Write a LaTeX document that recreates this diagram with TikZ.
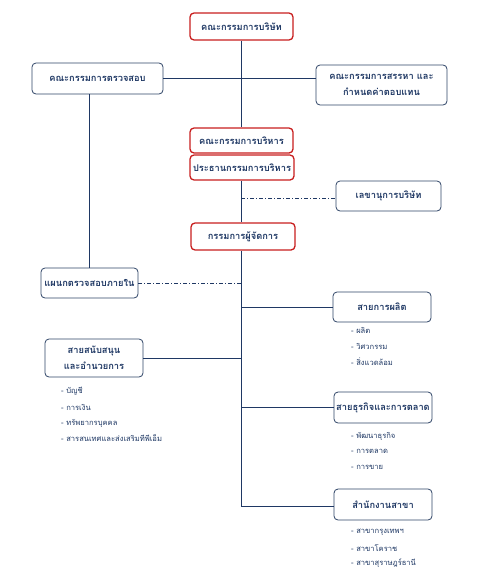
\documentclass[tikz,border=0pt]{standalone}
\usepackage{fontspec}
\newfontfamily\thai[Script=Thai]{Loma}
\definecolor{navy}{HTML}{1F3864}
\definecolor{bordr}{HTML}{2E4466}
\definecolor{redb}{HTML}{C81E1E}
\begin{document}
\begin{tikzpicture}[x=1pt,y=-1pt,
  box/.style={draw=bordr,line width=0.8pt,rounded corners=4pt,fill=white,text=navy,
    font=\thai\fontsize{9.3}{16.5}\selectfont\bfseries,align=center,inner sep=0pt},
  redbox/.style={box,draw=redb,line width=1.3pt},
  conn/.style={draw=navy,line width=0.7pt},
  dd/.style={conn,dash pattern=on 4pt off 2pt on 1pt off 2pt},
  item/.style={text=navy,font=\thai\fontsize{7.6}{9}\selectfont,anchor=west,inner sep=0pt}]
\useasboundingbox (0,0) rectangle (484,573);
% boxes
\node[redbox,minimum width=103,minimum height=27] (board) at (241.5,26.5) {คณะกรรมการบริษัท};
\node[box,minimum width=131,minimum height=31] (audit) at (97.5,78.5) {คณะกรรมการตรวจสอบ};
\node[box,minimum width=131,minimum height=40] (nom) at (381.5,85) {คณะกรรมการสรรหา และ\\กำหนดค่าตอบแทน};
\node[redbox,minimum width=103,minimum height=25] (exec) at (241.5,140.5) {คณะกรรมการบริหาร};
\node[redbox,minimum width=104,minimum height=25] (pres) at (242,167.5) {ประธานกรรมการบริหาร};
\node[box,minimum width=105,minimum height=30] (sec) at (388.5,196) {เลขานุการบริษัท};
\node[redbox,minimum width=104,minimum height=27] (md) at (243,236.5) {กรรมการผู้จัดการ};
\node[box,minimum width=97,minimum height=30] (ia) at (89.5,283) {แผนกตรวจสอบภายใน};
\node[box,minimum width=98,minimum height=30] (prod) at (382,307) {สายการผลิต};
\node[box,minimum width=98,minimum height=38] (supp) at (94,358) {สายสนับสนุน\\และอำนวยการ};
\node[box,minimum width=98,minimum height=31] (biz) at (383,407.5) {สายธุรกิจและการตลาด};
\node[box,minimum width=98,minimum height=31] (branch) at (383,504.5) {สำนักงานสาขา};
% spine coordinates
\coordinate (spine) at (241,0);
\coordinate (j2) at (241,198);
\coordinate (j7) at (241,506);
% connectors
\draw[conn] (board.south -| spine) -- (exec.north -| spine);
\draw[conn] (audit.east) -- (audit.east -| nom.west);
\draw[conn] (ia.north |- audit.south) -- (ia.north);
\draw[conn] (pres.south -| spine) -- (md.north -| spine);
\draw[conn] (md.south -| spine) -- (j7);
\draw[dd] (j2) -- (j2 -| sec.west);
\draw[dd] (ia.east) -- (ia.east -| spine);
\draw[conn] (prod.west -| spine) -- (prod.west);
\draw[conn] (supp.east) -- (supp.east -| spine);
\draw[conn] (biz.west -| spine) -- (biz.west);
\draw[conn] (j7) -- (j7 -| branch.west);
% items
\node[item] (p1) at (351,330) {- ผลิต};
\node[item] (p2) at (351,346) {- วิศวกรรม};
\node[item] (p3) at (351,362) {- สิ่งแวดล้อม};
\node[item] (s1) at (61,391) {- บัญชี};
\node[item] (s2) at (61,407) {- การเงิน};
\node[item] (s3) at (61,423) {- ทรัพยากรบุคคล};
\node[item] (s4) at (61,438) {- สารสนเทศและส่งเสริมทีพีเอ็ม};
\node[item] (b1) at (351,436) {- พัฒนาธุรกิจ};
\node[item] (b2) at (351,451) {- การตลาด};
\node[item] (b3) at (351,467) {- การขาย};
\node[item] (r1) at (351,532) {- สาขากรุงเทพฯ};
\node[item] (r2) at (351,548) {- สาขาโคราช};
\node[item] (r3) at (351,563) {- สาขาสุราษฎร์ธานี};
\end{tikzpicture}
\end{document}
